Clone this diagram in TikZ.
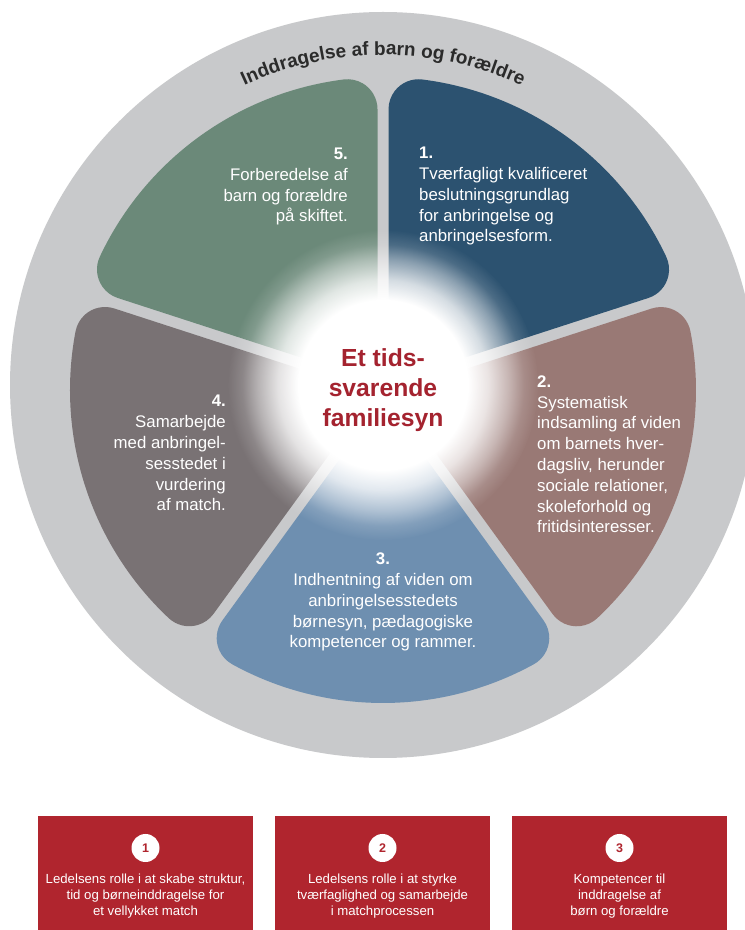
\documentclass[tikz,border=0pt]{standalone}
\usepackage{fontspec}
\setmainfont{Liberation Sans}
\usetikzlibrary{fadings,decorations.text}
\definecolor{ringgray}{HTML}{C8C9CB}
\definecolor{segone}{HTML}{2C5270}
\definecolor{segtwo}{HTML}{997975}
\definecolor{segthree}{HTML}{6E8FB0}
\definecolor{segfour}{HTML}{797274}
\definecolor{segfive}{HTML}{6B8979}
\definecolor{boxred}{HTML}{B0252E}
\definecolor{centerred}{HTML}{A4232F}
\definecolor{ringtext}{HTML}{2B2B2B}
\pgfdeclareradialshading{glowshading}{\pgfpointorigin}{color(0bp)=(white); color(13.7bp)=(white); color(16.9bp)=(white!80!black); color(20.2bp)=(white!45!black); color(22.6bp)=(white!15!black); color(25bp)=(black); color(50bp)=(black)}
\pgfdeclarefading{glowfade}{\pgfuseshading{glowshading}}
\tikzset{
  segtext/.style={text=white, font=\fontsize{16.8}{20.8}\selectfont, inner sep=0pt},
  boxtext/.style={text=white, font=\fontsize{13.2}{15.5}\selectfont, inner sep=0pt, align=center, anchor=base},
  redbox/.style={fill=boxred, draw=none},
  numcircle/.style={circle, fill=white, minimum size=28pt, inner sep=0pt, text=boxred, font=\fontsize{12.5}{12.5}\selectfont\bfseries},
  petal/.style={draw=none}
}
\newcommand{\petalpath}{(36:9.36) -- (280.77,5.5) arc[start angle=-90, end angle=7.21, radius=30] arc[start angle=7.21, end angle=64.79, radius=313] arc[start angle=64.79, end angle=162, radius=30] -- cycle}
\begin{document}
\begin{tikzpicture}[x=1pt,y=1pt]
\useasboundingbox (0,0) rectangle (745,930);
\clip (0,0) rectangle (745,930);
\fill[white] (0,0) rectangle (745,930);
% outer ring
\fill[ringgray] (383,545) circle (373);
\coordinate (gc) at (383,545);
% petals
\begin{scope}[shift={(383,540)}, rotate=18]
  \fill[segone, petal] \petalpath;
\end{scope}
\begin{scope}[shift={(383,540)}, rotate=-54]
  \fill[segtwo, petal] \petalpath;
\end{scope}
\begin{scope}[shift={(383,540)}, rotate=-126]
  \fill[segthree, petal] \petalpath;
\end{scope}
\begin{scope}[shift={(383,540)}, rotate=162]
  \fill[segfour, petal] \petalpath;
\end{scope}
\begin{scope}[shift={(383,540)}, rotate=90]
  \fill[segfive, petal] \petalpath;
\end{scope}
% glow
\fill[white, path fading=glowfade] (gc) circle (155);
% ring text
\path[decorate, decoration={text along path, text align=center, text color=ringtext,
  text={|\fontsize{19}{19}\selectfont\bfseries|Inddragelse af barn og forældre}}]
  (gc) ++(122:330) arc[start angle=122, end angle=58, radius=330];
% center text (anchor = baseline of last line)
\node[text=centerred, font=\fontsize{24.7}{30}\selectfont\bfseries, align=center, anchor=base, inner sep=0pt] (center) at (383,503) {Et tids-\\svarende\\familiesyn};
% segment texts
\node[segtext, align=left, anchor=base west] (t1) at (419,688) {\textbf{1.}\\Tværfagligt kvalificeret\\beslutningsgrundlag\\for anbringelse og\\anbringelsesform.};
\node[segtext, align=right, anchor=base east] (t5) at (348,708) {\textbf{5.}\\Forberedelse af\\barn og forældre\\på skiftet.};
\node[segtext, align=left, anchor=base west] (t2) at (537,397) {\textbf{2.}\\Systematisk\\indsamling af viden\\om barnets hver-\\dagsliv, herunder\\sociale relationer,\\skoleforhold og\\fritidsinteresser.};
\node[segtext, align=right, anchor=base east] (t4) at (226,419) {\textbf{4.}\\Samarbejde\\med anbringel-\\sesstedet i\\vurdering\\af match.};
\node[segtext, align=center, anchor=base] (t3) at (383,282) {\textbf{3.}\\Indhentning af viden om\\anbringelsesstedets\\børnesyn, pædagogiske\\kompetencer og rammer.};
% bottom boxes
\fill[redbox] (38,0) rectangle (253,114);
\fill[redbox] (275,0) rectangle (490,114);
\fill[redbox] (512,0) rectangle (727,114);
\node[numcircle] (n1) at (145.5,82) {1};
\node[numcircle] (n2) at (382.5,82) {2};
\node[numcircle] (n3) at (619.5,82) {3};
\node[boxtext] (b1) at (145.5,15) {Ledelsens rolle i at skabe struktur,\\tid og børneinddragelse for\\et vellykket match};
\node[boxtext] (b2) at (382.5,15) {Ledelsens rolle i at styrke\\tværfaglighed og samarbejde\\i matchprocessen};
\node[boxtext] (b3) at (619.5,15) {Kompetencer til\\inddragelse af\\børn og forældre};
\end{tikzpicture}
\end{document}
